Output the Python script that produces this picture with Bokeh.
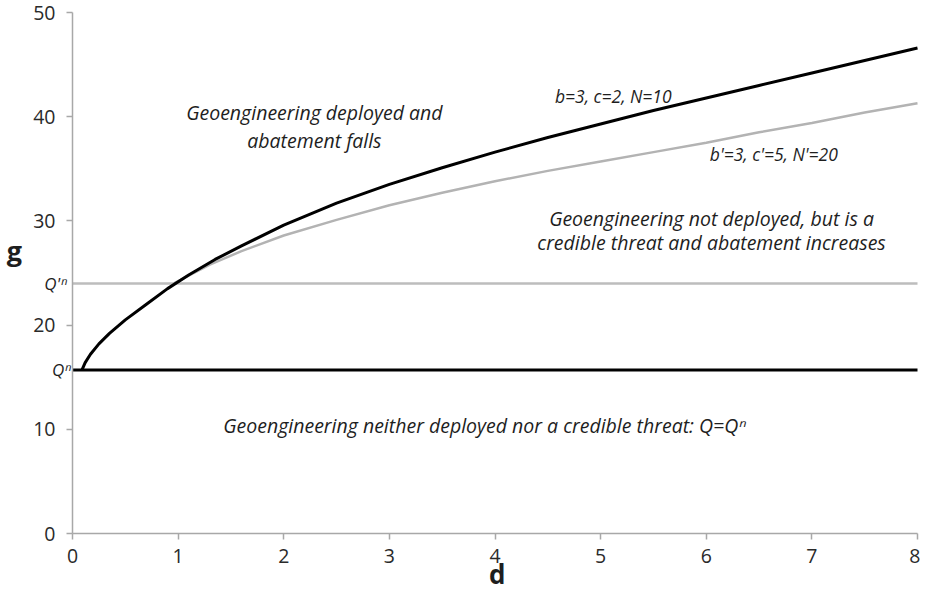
from bokeh.plotting import figure
from bokeh.models import Label, Range1d, FixedTicker
from bokeh.embed import file_html
from bokeh.resources import INLINE

# ---- data ----
d_black = [0.09, 0.12, 0.17, 0.25, 0.35, 0.5, 0.7, 0.9, 1.1, 1.35, 1.6, 2.0,
           2.5, 3.0, 3.5, 4.0, 4.5, 5.0, 5.5, 6.0, 6.5, 7.0, 7.5, 8.0]
g_black = [15.7, 16.4, 17.2, 18.2, 19.2, 20.5, 22.0, 23.5, 24.8, 26.3, 27.6,
           29.6, 31.7, 33.5, 35.1, 36.6, 38.0, 39.3, 40.6, 41.8, 43.0, 44.2,
           45.4, 46.6]

d_gray = [0.96, 1.1, 1.3, 1.6, 2.0, 2.5, 3.0, 3.5, 4.0, 4.5, 5.0, 5.5, 6.0,
          6.5, 7.0, 7.5, 8.0]
g_gray = [24.0, 24.75, 25.8, 27.1, 28.6, 30.1, 31.5, 32.7, 33.8, 34.8, 35.7,
          36.6, 37.5, 38.5, 39.4, 40.4, 41.3]

q_n = 15.7          # Q^n level
q_prime_n = 24.0    # Q'^n level

x_ticks = [0, 1, 2, 3, 4, 5, 6, 7, 8]
y_ticks = [0, 10, 20, 30, 40, 50]

curve_labels = ["b=3, c=2, N=10", "b'=3, c'=5, N'=20"]
region_texts = [
    ["Geoengineering deployed and", "abatement falls"],
    ["Geoengineering not deployed, but is a", "credible threat and abatement increases"],
    ["Geoengineering neither deployed nor a credible threat: Q=Q\u207f"],
]

FONT = "Open Sans"
TXT = "#1e1e1e"
AXIS_GRAY = "#a8a8a8"

# ---- layout: the frame fills the canvas, axes sit at x=0 / y=0 ----
W, H = 920, 592
LEFT_PX, RIGHT_PX = 72, 917      # canvas x of d=0 and d=8
TOP_PX, BOTTOM_PX = 12, 533      # canvas y of g=50 and g=0
xmin, xmax = x_ticks[0], x_ticks[-1]
ymin, ymax = y_ticks[0], y_ticks[-1]
sx = (RIGHT_PX - LEFT_PX) / (xmax - xmin)
sy = (BOTTOM_PX - TOP_PX) / (ymax - ymin)

p = figure(width=W, height=H, output_backend="svg", toolbar_location=None,
           x_range=Range1d(xmin - LEFT_PX / sx, xmax + (W - RIGHT_PX) / sx),
           y_range=Range1d(ymin - (H - BOTTOM_PX) / sy, ymax + TOP_PX / sy),
           min_border_left=0, min_border_right=0, min_border_top=0,
           min_border_bottom=0)
p.outline_line_color = None
p.xgrid.visible = False
p.ygrid.visible = False
p.background_fill_color = "white"
p.border_fill_color = "white"

for ax, ticks in ((p.xaxis[0], x_ticks), (p.yaxis[0], y_ticks)):
    ax.ticker = FixedTicker(ticks=ticks)
    ax.bounds = (ticks[0], ticks[-1])
    ax.fixed_location = 0
    ax.axis_line_color = AXIS_GRAY
    ax.axis_line_width = 1.5
    ax.major_tick_line_color = AXIS_GRAY
    ax.major_tick_line_width = 1.5
    ax.major_tick_out = 6
    ax.major_tick_in = 0
    ax.minor_tick_line_color = None
    ax.major_label_text_font = FONT
    ax.major_label_text_font_size = "19.5px"
    ax.major_label_text_color = "#2a2a2a"
p.yaxis[0].major_label_standoff = 11
p.xaxis[0].major_label_standoff = 9

# reference levels (from the axis to the right end)
p.line([xmin, xmax], [q_prime_n, q_prime_n], line_color="#bdbdbd", line_width=2.5)
p.line([xmin, xmax], [q_n, q_n], line_color="black", line_width=3)

# curves
p.line(d_gray, g_gray, line_color="#b3b3b3", line_width=2.5)
p.line(d_black, g_black, line_color="black", line_width=3)

def lab(x, y, text, size="19.5px", style="italic", align="center", xo=0, yo=0):
    p.add_layout(Label(x=x, y=y, text=text, text_font=FONT,
                       text_font_size=size, text_font_style=style,
                       text_color=TXT, text_align=align,
                       text_baseline="middle", x_offset=xo, y_offset=yo))

# Q labels left of the axis
lab(xmin, q_prime_n, "Q'\u207f", size="17px", align="right", xo=-6)
lab(xmin, q_n, "Q\u207f", size="17px", align="right", xo=-2)

# axis titles
lab(xmin, 27.2, "g", size="27px", style="bold", xo=-58)
lab(4.02, ymin, "d", size="26px", style="bold", yo=-40)

# curve labels
lab(5.12, 42.0, curve_labels[0], size="17.5px")
lab(6.64, 36.4, curve_labels[1], size="17.5px")

# region texts
lab(2.29, 40.4, region_texts[0][0])
lab(2.29, 37.7, region_texts[0][1])
lab(6.05, 30.25, region_texts[1][0])
lab(6.05, 27.9, region_texts[1][1])
lab(3.90, 10.4, region_texts[2][0])

open("out.html", "w").write(file_html(p, INLINE))
